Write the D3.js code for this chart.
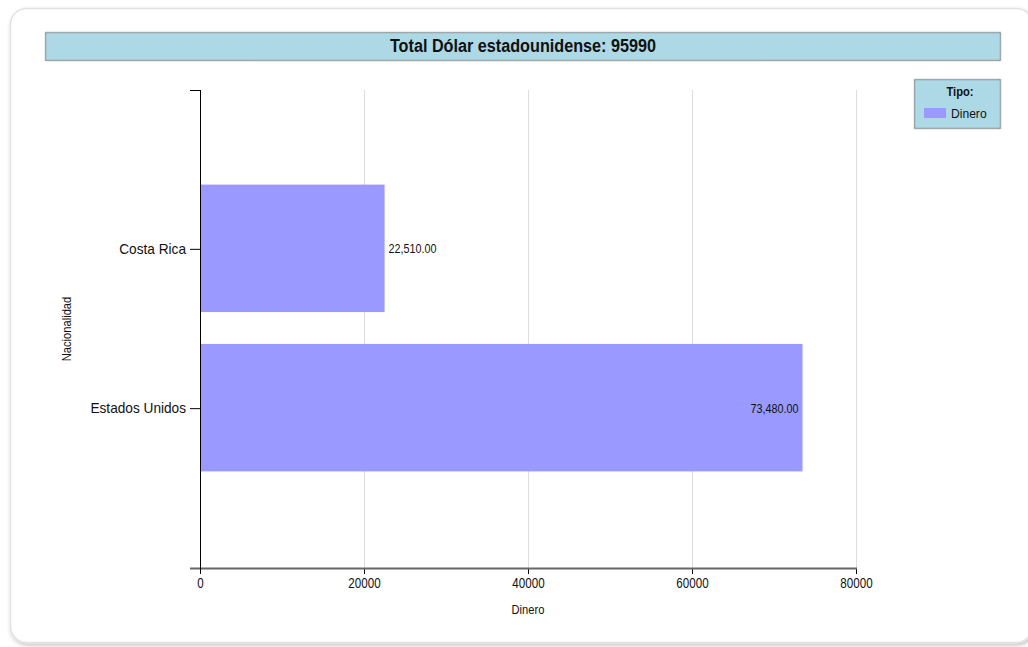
<!DOCTYPE html>
<html>
<head>
<meta charset="utf-8">
<script src="https://cdn.jsdelivr.net/npm/d3@7"></script>
<style>
  html, body { margin: 0; padding: 0; background: #fff; }
  svg { display: block; }
  text { font-family: "Liberation Sans Narrow", "Arial Narrow", "Liberation Sans", Arial, sans-serif; fill: #111; }
</style>
</head>
<body>
<svg id="chart" width="1028" height="647"></svg>
<script>
// Data
const categories = ["Costa Rica", "Estados Unidos"];
const dinero = [22510, 73480];
const xTicks = [0, 20000, 40000, 60000, 80000];
const titleText = "Total Dólar estadounidense: 95990";
const seriesName = "Dinero";
const legendTitle = "Tipo:";
const xTitle = "Dinero";
const yTitle = "Nacionalidad";

const svg = d3.select("#chart");
const barColor = "#9999ff";
const boxFill = "#add8e6";

// Condense text horizontally (narrow typeface look)
function squeeze(sel, k) {
  sel.each(function () {
    const w = this.getComputedTextLength();
    d3.select(this).attr("textLength", w * k).attr("lengthAdjust", "spacingAndGlyphs");
  });
}

// Drop shadow for the outer panel
const defs = svg.append("defs");
const f = defs.append("filter").attr("id", "shadow").attr("x", "-5%").attr("y", "-5%").attr("width", "110%").attr("height", "110%");
f.append("feGaussianBlur").attr("in", "SourceAlpha").attr("stdDeviation", 2);
f.append("feOffset").attr("dx", 1).attr("dy", 2).attr("result", "blur");
f.append("feComponentTransfer").append("feFuncA").attr("type", "linear").attr("slope", 0.25);
const m = f.append("feMerge");
m.append("feMergeNode");
m.append("feMergeNode").attr("in", "SourceGraphic");

// Outer panel
svg.append("rect")
  .attr("x", 10.5).attr("y", 8.5)
  .attr("width", 1022).attr("height", 634)
  .attr("rx", 16).attr("ry", 16)
  .attr("fill", "#fff").attr("stroke", "#e2e2e2").attr("stroke-width", 1.5)
  .attr("filter", "url(#shadow)");

// Title box
svg.append("rect")
  .attr("x", 45.5).attr("y", 32.5).attr("width", 955).attr("height", 28)
  .attr("fill", boxFill).attr("stroke", "#666").attr("stroke-width", 1.5)
  .attr("stroke-dasharray", "1,1");
svg.append("text")
  .attr("x", 523).attr("y", 52)
  .attr("text-anchor", "middle")
  .style("font-size", "18px").style("font-weight", "bold")
  .text(titleText)
  .call(squeeze, 0.9);

// Plot area
const margin = { left: 200, top: 90, right: 856, bottom: 568 };
const x = d3.scaleLinear().domain([0, 80000]).range([margin.left, margin.right]);
const y = d3.scaleBand().domain(categories).range([margin.top, margin.bottom])
  .paddingInner(0.2).paddingOuter(0.6);

// Vertical gridlines
svg.append("g").selectAll("line")
  .data(xTicks.filter(d => d > 0))
  .join("line")
  .attr("x1", d => x(d) + 0.5).attr("x2", d => x(d) + 0.5)
  .attr("y1", margin.top).attr("y2", margin.bottom)
  .attr("stroke", "#dddddd").attr("stroke-width", 1);

// Bars
svg.append("g").selectAll("rect")
  .data(categories.map((c, i) => ({ c, v: dinero[i] })))
  .join("rect")
  .attr("x", x(0))
  .attr("y", d => y(d.c) - 1)
  .attr("width", d => x(d.v) - x(0))
  .attr("height", y.bandwidth())
  .attr("fill", barColor);

// Value labels
const fmt = d3.format(",.2f");
svg.append("g").selectAll("text")
  .data(categories.map((c, i) => ({ c, v: dinero[i] })))
  .join("text")
  .attr("x", d => (x(d.v) - x(0) > 300 ? x(d.v) - 4 : x(d.v) + 4))
  .attr("y", d => y(d.c) + y.bandwidth() / 2 + 4)
  .attr("text-anchor", d => (x(d.v) - x(0) > 300 ? "end" : "start"))
  .style("font-size", "13px")
  .text(d => fmt(d.v))
  .call(squeeze, 0.83);

// X axis
const xAxis = svg.append("g")
  .attr("transform", `translate(0,${margin.bottom})`)
  .call(d3.axisBottom(x).tickValues(xTicks).tickFormat(d3.format("d")).tickSizeOuter(0).tickSize(6));
xAxis.select(".domain").remove();
xAxis.append("line")
  .attr("x1", 190).attr("x2", margin.right + 1)
  .attr("y1", 0.5).attr("y2", 0.5)
  .attr("stroke", "#666").attr("stroke-width", 2);
xAxis.selectAll(".tick line").attr("stroke", "#000");
xAxis.selectAll(".tick text")
  .attr("y", 10)
  .style("font-size", "14.5px").style("font-family", null).attr("fill", "#111")
  .call(squeeze, 0.8);

// Y axis
const yAxis = svg.append("g")
  .attr("transform", `translate(${margin.left},0)`)
  .call(d3.axisLeft(y).tickSizeOuter(0).tickSize(10));
yAxis.select(".domain").remove();
yAxis.append("line")
  .attr("x1", 0.5).attr("x2", 0.5)
  .attr("y1", margin.top).attr("y2", margin.bottom + 6)
  .attr("stroke", "#000");
yAxis.append("line")
  .attr("x1", -10).attr("x2", 0.5)
  .attr("y1", margin.top + 0.5).attr("y2", margin.top + 0.5)
  .attr("stroke", "#000");
yAxis.selectAll(".tick line").attr("stroke", "#000");
yAxis.selectAll(".tick text")
  .attr("x", -14)
  .style("font-size", "15px").style("font-family", null).attr("fill", "#111")
  .call(squeeze, 0.91);

// Axis titles
svg.append("text")
  .attr("x", (margin.left + margin.right) / 2).attr("y", 614)
  .attr("text-anchor", "middle")
  .style("font-size", "12px")
  .text(xTitle)
  .call(squeeze, 0.93);
svg.append("text")
  .attr("transform", `translate(71,${(margin.top + margin.bottom) / 2}) rotate(-90)`)
  .attr("text-anchor", "middle")
  .style("font-size", "12px")
  .text(yTitle)
  .call(squeeze, 0.93);

// Legend
const lg = svg.append("g");
lg.append("rect")
  .attr("x", 914.5).attr("y", 79.5).attr("width", 86).attr("height", 49)
  .attr("fill", boxFill).attr("stroke", "#666").attr("stroke-width", 1.5).attr("stroke-dasharray", "1,1");
lg.append("text")
  .attr("x", 960).attr("y", 96)
  .attr("text-anchor", "middle")
  .style("font-size", "12px").style("font-weight", "bold")
  .text(legendTitle)
  .call(squeeze, 0.93);
lg.append("rect")
  .attr("x", 924).attr("y", 108).attr("width", 22).attr("height", 10)
  .attr("fill", barColor);
lg.append("text")
  .attr("x", 951).attr("y", 118)
  .style("font-size", "13px")
  .text(seriesName)
  .call(squeeze, 0.93);
</script>
</body>
</html>
